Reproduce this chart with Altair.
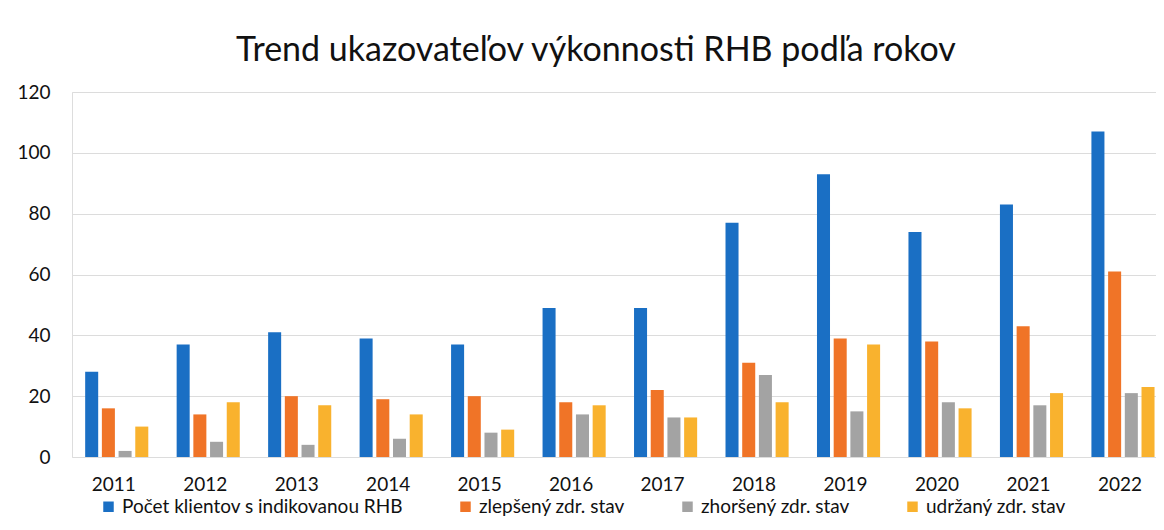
import altair as alt
import pandas as pd

years = ["2011", "2012", "2013", "2014", "2015", "2016", "2017", "2018", "2019", "2020", "2021", "2022"]
series = ["Počet klientov s indikovanou RHB", "zlepšený zdr. stav", "zhoršený zdr. stav", "udržaný zdr. stav"]
pocet = [28, 37, 41, 39, 37, 49, 49, 77, 93, 74, 83, 107]
zlepseny = [16, 14, 20, 19, 20, 18, 22, 31, 39, 38, 43, 61]
zhorseny = [2, 5, 4, 6, 8, 14, 13, 27, 15, 18, 17, 21]
udrzany = [10, 18, 17, 14, 9, 17, 13, 18, 37, 16, 21, 23]
colors = ["#1a6fc4", "#f07427", "#a3a3a3", "#f9b22e"]
y_ticks = [0, 20, 40, 60, 80, 100, 120]

rows = []
for vals, s in zip([pocet, zlepseny, zhorseny, udrzany], series):
    for yr, v in zip(years, vals):
        rows.append({"rok": yr, "ukazovatel": s, "hodnota": v})
df = pd.DataFrame(rows)

FONT = "Lato"

chart = alt.Chart(df).mark_bar().encode(
    x=alt.X("rok:N", sort=years, title=None,
            scale=alt.Scale(paddingInner=0.31, paddingOuter=0.08, align=0.9),
            axis=alt.Axis(labelAngle=0, ticks=False, domain=False, labelPadding=18,
                          labelOffset=-3,
                          labelFontSize=19, labelColor="#111", labelFont=FONT)),
    xOffset=alt.XOffset("ukazovatel:N", sort=series,
                        scale=alt.Scale(paddingInner=0.22, paddingOuter=0)),
    y=alt.Y("hodnota:Q", title=None,
            scale=alt.Scale(domain=[0, 120], nice=False),
            axis=alt.Axis(values=y_ticks, ticks=False, domain=False, labelPadding=22,
                          labelFontSize=19, labelColor="#111", labelFont=FONT,
                          gridColor="#dcdcdc", gridWidth=1)),
    color=alt.Color("ukazovatel:N", sort=series, title=None,
                    scale=alt.Scale(domain=series, range=colors),
                    legend=alt.Legend(orient="none", legendX=27, legendY=405,
                                      direction="horizontal", symbolType="square",
                                      symbolSize=110, symbolStrokeWidth=0,
                                      labelFontSize=19, labelColor="#111", labelFont=FONT,
                                      labelLimit=500, columnPadding=53, labelOffset=4)),
).properties(
    width=1084,
    height=365,
    title=alt.TitleParams("Trend ukazovateľov výkonnosti RHB podľa rokov",
                          fontSize=34, font=FONT, fontWeight="normal", color="#111",
                          anchor="middle", dx=-18, offset=15),
    autosize=alt.AutoSizeParams(type="none"),
    padding={"left": 64, "top": 84, "right": 0, "bottom": 65},
).configure_view(stroke=None).configure(background="white")

chart.save("out.html", embed_options={"renderer": "svg", "actions": False})
